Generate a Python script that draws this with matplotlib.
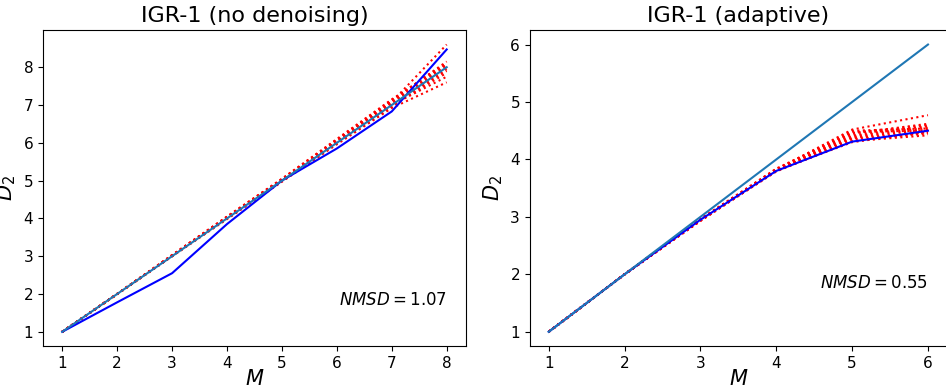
import matplotlib
matplotlib.use("Agg")
import matplotlib.pyplot as plt

# left panel: IGR-1 (no denoising)
m_left = [1, 2, 3, 4, 5, 6, 7, 8]
ideal_left = [1, 2, 3, 4, 5, 6, 7, 8]
d2_left = [1.0, 1.78, 2.55, 3.85, 5.0, 5.85, 6.83, 8.47]
surr_left = [
    [1, 2, 3.02, 4.03, 5.02, 6.05, 7.08, 8.60],
    [1, 2, 3.01, 4.02, 5.03, 6.08, 7.12, 8.15],
    [1, 2, 3.03, 4.05, 5.05, 6.10, 7.15, 8.10],
    [1, 2, 3.00, 4.00, 5.00, 6.02, 7.02, 8.05],
    [1, 2, 3.02, 4.04, 5.04, 6.06, 7.10, 8.00],
    [1, 2, 3.01, 4.01, 4.98, 5.98, 6.95, 7.95],
    [1, 2, 3.00, 4.02, 5.01, 6.04, 7.05, 7.90],
    [1, 2, 3.02, 4.03, 5.02, 6.03, 7.00, 7.75],
    [1, 2, 3.00, 3.98, 4.97, 5.96, 6.92, 7.60],
    [1, 2, 3.01, 4.00, 5.00, 6.00, 7.04, 8.08],
    [1, 2, 3.03, 4.04, 5.03, 6.07, 7.13, 8.12],
    [1, 2, 3.01, 4.02, 5.01, 6.01, 6.98, 7.85],
]
nmsd_left = 1.07

# right panel: IGR-1 (adaptive)
m_right = [1, 2, 3, 4, 5, 6]
ideal_right = [1, 2, 3, 4, 5, 6]
d2_right = [1.0, 2.0, 2.95, 3.80, 4.31, 4.50]
surr_right = [
    [1, 2, 2.96, 3.82, 4.52, 4.77],
    [1, 2, 2.95, 3.83, 4.45, 4.62],
    [1, 2, 2.94, 3.81, 4.40, 4.55],
    [1, 2, 2.96, 3.84, 4.48, 4.50],
    [1, 2, 2.93, 3.80, 4.35, 4.45],
    [1, 2, 2.95, 3.82, 4.42, 4.58],
    [1, 2, 2.94, 3.79, 4.32, 4.42],
    [1, 2, 2.96, 3.83, 4.38, 4.52],
    [1, 2, 2.95, 3.81, 4.30, 4.48],
    [1, 2, 2.94, 3.80, 4.46, 4.60],
    [1, 2, 2.95, 3.82, 4.50, 4.54],
    [1, 2, 2.93, 3.81, 4.37, 4.47],
]
nmsd_right = 0.55
nmsd_y = 1.85

fig = plt.figure(figsize=(9.46, 3.92), dpi=100)
ax1 = fig.add_axes([0.0455, 0.117, 0.447, 0.806])
ax2 = fig.add_axes([0.560, 0.117, 0.441, 0.806])

panels = [
    (ax1, "IGR-1 (no denoising)", m_left, ideal_left, d2_left, surr_left, nmsd_left),
    (ax2, "IGR-1 (adaptive)", m_right, ideal_right, d2_right, surr_right, nmsd_right),
]

for ax, title, m, ideal, d2, surr, nmsd in panels:
    for s in surr:
        ax.plot(m, s, ":", color="red", lw=1.5)
    ax.plot(m, d2, "-", color="blue", lw=1.5)
    ax.plot(m, ideal, "-", color="tab:blue", lw=1.5)
    ax.set_title(title, fontsize=16)
    ax.set_xlabel("$M$", fontsize=15, labelpad=-1)
    ax.set_ylabel("$D_2$", fontsize=15)
    ax.tick_params(labelsize=11)
    ax.set_xticks(m)
    ax.text(m[-1], nmsd_y, "$NMSD = %.2f$" % nmsd,
            ha="right", va="center", fontsize=12)

fig.savefig("out.png", dpi=100)
